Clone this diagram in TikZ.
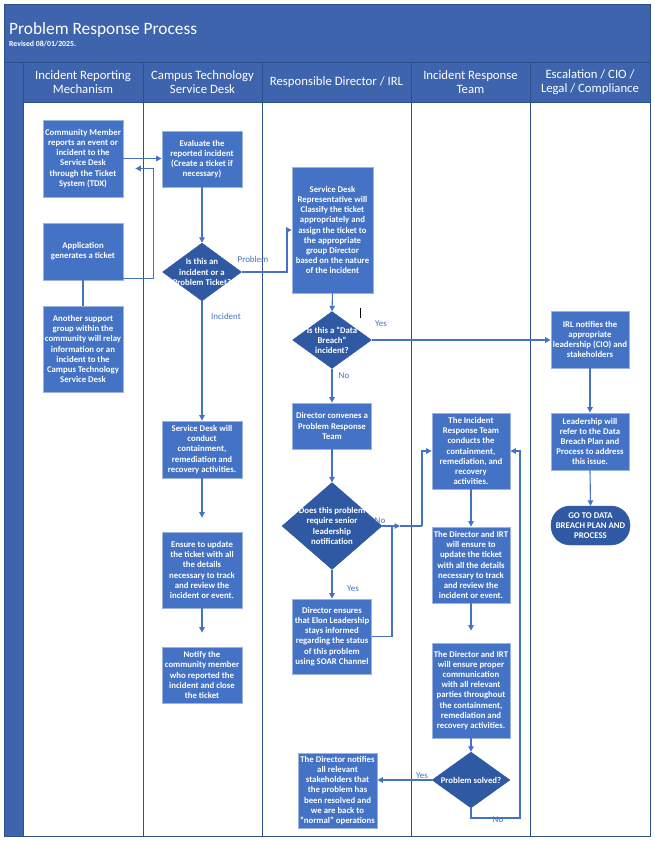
\documentclass[tikz,border=0pt]{standalone}
\usepackage{fontspec}
\setmainfont{Carlito}
\usetikzlibrary{shapes.geometric,arrows.meta,calc}
\definecolor{bandblue}{HTML}{3E64AD}
\definecolor{boxblue}{HTML}{4472C4}
\definecolor{boxedge}{HTML}{9DB3DF}
\definecolor{diablue}{HTML}{2F5AA3}
\definecolor{lanedark}{HTML}{2F4E8C}
\definecolor{linkblue}{HTML}{4472C4}
\begin{document}
\begin{tikzpicture}[x=1bp,y=-1bp,
  proc/.style={draw=boxedge, line width=0.8bp, fill=boxblue, text=white,
    font=\fontsize{8.8}{10.2}\selectfont\bfseries, align=center, inner sep=1bp},
  dia/.style={shape=diamond, draw=diablue, fill=diablue, inner sep=0pt},
  diatext/.style={text=white, font=\fontsize{8.8}{10.2}\selectfont\bfseries, align=center, inner sep=0pt},
  term/.style={draw=diablue, fill=diablue, text=white, rounded corners=19bp,
    font=\fontsize{8.8}{10.2}\selectfont\bfseries, align=center, inner sep=1bp},
  hdr/.style={text=white, font=\fontsize{12.8}{14.5}\selectfont, align=center, inner sep=0pt},
  lbl/.style={text=linkblue, font=\fontsize{9}{10}\selectfont, inner sep=0pt},
  ln/.style={draw=linkblue, line width=1.1bp},
  arr/.style={draw=linkblue, line width=1.1bp, -{Triangle[length=5.5bp,width=5.5bp]}},
  lane/.style={draw=lanedark, line width=0.8bp}]
\useasboundingbox (0,0) rectangle (655,841);
\fill[white] (0,0) rectangle (655,841);
% frame
\fill[bandblue] (4,4) rectangle (650,102);
\fill[bandblue] (4,102) rectangle (23,836);
\draw[lane] (4,4) rectangle (650,836);
\draw[lane] (4,62) -- (650,62);
\draw[lane] (23,102) -- (650,102);
\foreach \xx in {23,143,262,411,530} {\draw[lane] (\xx,62) -- (\xx,836);}
% title
\node[anchor=base west, text=white, font=\fontsize{17.4}{19}\selectfont, inner sep=0pt] (title) at (9,34) {Problem Response Process};
\node[anchor=base west, text=white, font=\fontsize{7.8}{9}\selectfont\bfseries, inner sep=0pt] (rev) at (9,46) {Revised 08/01/2025.};
% lane headers
\node[hdr] (h1) at (83,82) {Incident Reporting\\Mechanism};
\node[hdr] (h2) at (202.5,82) {Campus Technology\\Service Desk};
\node[hdr] (h3) at (336.5,82) {Responsible Director / IRL};
\node[hdr] (h4) at (470.5,82) {Incident Response\\Team};
\node[hdr] (h5) at (590,82) {Escalation / CIO /\\Legal / Compliance};
% lane 1
\node[proc, minimum width=80bp, minimum height=77bp] (A1) at (83,158.5) {Community Member\\reports an event or\\incident to the\\Service Desk\\through the Ticket\\System (TDX)};
\node[proc, minimum width=80bp, minimum height=57bp] (A2) at (83,251.5) {Application\\generates a ticket};
\node[proc, minimum width=80bp, minimum height=86bp] (A3) at (83,349) {Another support\\group within the\\community will relay\\information or an\\incident to the\\Campus Technology\\Service Desk};
% lane 2
\node[proc, minimum width=80bp, minimum height=56bp] (B1) at (202,159) {Evaluate the\\reported incident\\(Create a ticket if\\necessary)};
\node[dia, minimum width=79bp, minimum height=58bp] (B2) at (202,272) {};
\node[diatext] (B2t) at (B2.center) {Is this an\\incident or a\\Problem Ticket?};
\node[proc, minimum width=80bp, minimum height=57bp] (B4) at (202,449.5) {Service Desk will\\conduct\\containment,\\remediation and\\recovery activities.};
\node[proc, minimum width=80bp, minimum height=76bp] (B5) at (202,570) {Ensure to update\\the ticket with all\\the details\\necessary to track\\and review the\\incident or event.};
\node[proc, minimum width=80bp, minimum height=56bp] (B6) at (202,675) {Notify the\\community member\\who reported the\\incident and close\\the ticket};
% lane 3
\node[proc, minimum width=81bp, minimum height=126bp] (B3) at (332.5,230) {Service Desk\\Representative will\\Classify the ticket\\appropriately and\\assign the ticket to\\the appropriate\\group Director\\based on the nature\\of the incident};
\node[dia, minimum width=79bp, minimum height=57bp] (C2) at (332,340) {};
\node[diatext] (C2t) at (C2.center) {Is this a “Data\\Breach”\\incident?};
\node[proc, minimum width=79bp, minimum height=46bp] (C3) at (332,426) {Director convenes a\\Problem Response\\Team};
\node[dia, minimum width=100bp, minimum height=87bp] (C4) at (332,526) {};
\node[diatext] (C4t) at (C4.center) {Does this problem\\require senior\\leadership\\notification};
\node[proc, minimum width=79bp, minimum height=75bp] (C5) at (332,636.5) {Director ensures\\that Elon Leadership\\stays informed\\regarding the status\\of this problem\\using SOAR Channel};
\node[proc, minimum width=79bp, minimum height=75bp] (C6) at (337.5,790.5) {The Director notifies\\all relevant\\stakeholders that\\the problem has\\been resolved and\\we are back to\\“normal” operations};
% lane 4
\node[proc, minimum width=78bp, minimum height=76bp] (D1) at (471,451) {The Incident\\Response Team\\conducts the\\containment,\\remediation, and\\recovery\\activities.};
\node[proc, minimum width=78bp, minimum height=76bp] (D2) at (471,565) {The Director and IRT\\will ensure to\\update the ticket\\with all the details\\necessary to track\\and review the\\incident or event.};
\node[proc, minimum width=78bp, minimum height=95bp] (D3) at (471,690.5) {The Director and IRT\\will ensure proper\\communication\\with all relevant\\parties throughout\\the containment,\\remediation and\\recovery activities.};
\node[dia, minimum width=78bp, minimum height=56bp] (D4) at (471,780) {};
\node[diatext] (D4t) at (D4.center) {Problem solved?};
% lane 5
\node[proc, minimum width=78bp, minimum height=57bp] (E1) at (590,339.5) {IRL notifies the\\appropriate\\leadership (CIO) and\\stakeholders};
\node[proc, minimum width=78bp, minimum height=57bp] (E2) at (590,441.5) {Leadership will\\refer to the Data\\Breach Plan and\\Process to address\\this issue.};
\node[term, minimum width=79bp, minimum height=39bp] (E3) at (590.5,525.5) {GO TO DATA\\BREACH PLAN AND\\PROCESS};
% connectors lane 1/2
\draw[arr] (A1.east) -- (A1.east -| B1.west);
\draw[arr] ([yshift=2bp]A2.south east) -- ++(30,0) |- ([xshift=12bp,yshift=-10bp]A1.east);
\draw[ln] (A2.south) -- (A3.north);
\draw[arr] (B1.south) -- (B2.north);
\coordinate (p1) at (287,272);
\draw[arr] (B2.east) -- (p1) |- (B3.west);
\node[lbl] (lprob) at (253,259) {Problem};
\draw[arr] (B2.south) -- (B4.north);
\node[lbl] (linc) at (226,316) {Incident};
\draw[arr, shorten >=14bp] (B4.south) -- (B5.north);
\draw[arr, shorten >=14bp] (B5.south) -- (B6.north);
% lane 3
\draw[arr] (B3.south) -- (C2.north);
\draw[arr] (C2.east) -- (C2.east -| E1.west);
\node[lbl] (lyes1) at (381,324) {Yes};
\draw[arr] (C2.south) -- (C3.north);
\node[lbl] (lno1) at (344,376) {No};
\draw[arr] (C3.south) -- (C4.north);
\coordinate (m1) at (400,526);
\coordinate (j1) at (422,526);
\coordinate (j2) at (392,526);
\draw[arr] (C4.east) -- (m1);
\draw[ln] (m1) -- (j1);
\draw[arr] (j1) |- (D1.west);
\node[lbl] (lno2) at (380,521) {No};
\draw[arr] (C4.south) -- (C5.north);
\node[lbl] (lyes2) at (353,589) {Yes};
\draw[ln] (C5.east) -| (j2);
\draw[black, line width=0.6bp] (360,308) -- (360,318);
% lane 4
\draw[arr] (D1.south) -- (D2.north);
\draw[arr, shorten >=12bp] (D2.south) -- (D3.north);
\draw[arr] (D3.south) -- (D4.north);
\draw[arr] (D4.west) -- (D4.west -| C6.east);
\node[lbl] (lyes3) at (422,776) {Yes};
\coordinate (q1) at (520,818);
\draw[arr] (D4.south) |- (q1) |- (D1.east);
\node[lbl] (lno3) at (498,820) {No};
% lane 5
\draw[arr] (E1.south) -- (E2.north);
\draw[arr] (E2.south) -- (E3.north);
\end{tikzpicture}
\end{document}
